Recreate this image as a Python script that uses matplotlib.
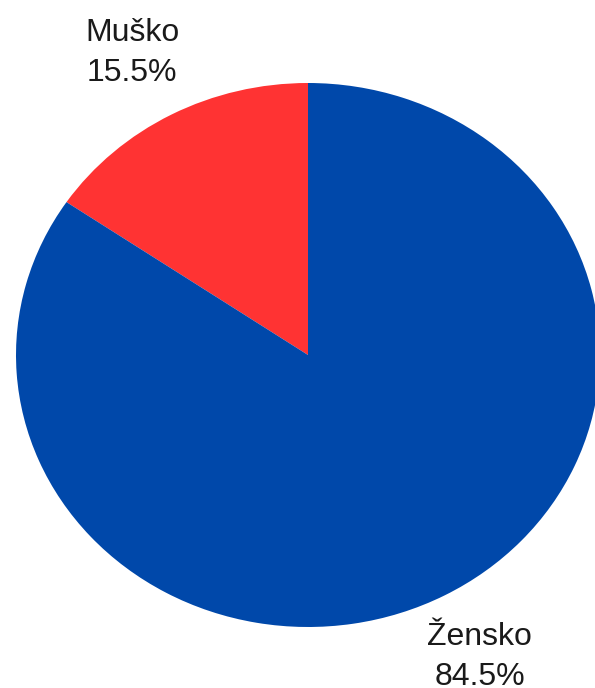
import matplotlib
matplotlib.use('Agg')
import matplotlib.pyplot as plt

# data
categories = ['Muško', 'Žensko']
shares = [15.5, 84.5]
colors = ['#FF3333', '#0048AA']

W, H = 595, 688
cx, cy = 308, 355        # pie centre in pixels
rx, ry = 292, 272        # the picture is stretched, so the pie is an ellipse

plt.rcParams['font.family'] = ['Liberation Sans', 'DejaVu Sans']

fig = plt.figure(figsize=(W / 100, H / 100), dpi=100)
ax = fig.add_axes([0, 0, 1, 1])

labels = [f'{c}\n{v:.1f}%' for c, v in zip(categories, shares)]
wedges, texts = ax.pie(
    shares,
    labels=labels,
    colors=colors,
    startangle=90,
    counterclock=True,
    labeldistance=1.255,
    textprops={'ha': 'center', 'va': 'center', 'multialignment': 'center',
               'fontsize': 23, 'color': '#1a1a1a', 'linespacing': 1.42},
    wedgeprops={'linewidth': 0},
)
# nudge the top label a little left, as in the reference
texts[0].set_x(texts[0].get_position()[0] - 0.015)

ax.set_aspect('auto')
ax.set_xlim(-cx / rx, (W - cx) / rx)
ax.set_ylim(-(H - cy) / ry, cy / ry)
ax.axis('off')

fig.savefig('out.png', dpi=100, facecolor='white')
